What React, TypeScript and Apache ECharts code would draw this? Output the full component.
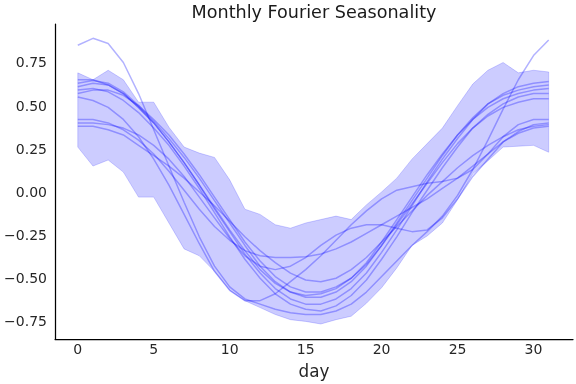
import React, { useEffect, useRef } from "react";
import * as echarts from "echarts";

const days = [0, 1, 2, 3, 4, 5, 6, 7, 8, 9, 10, 11, 12, 13, 14, 15, 16, 17, 18, 19, 20, 21, 22, 23, 24, 25, 26, 27, 28, 29, 30, 31];

const bandUpper = [0.69, 0.65, 0.705, 0.65, 0.52, 0.52, 0.375, 0.26, 0.225, 0.2, 0.07, -0.1, -0.13, -0.19, -0.21, -0.18, -0.16, -0.14, -0.16, -0.075, 0.0, 0.08, 0.19, 0.28, 0.37, 0.5, 0.625, 0.705, 0.75, 0.69, 0.705, 0.695];
const bandLower = [0.26, 0.15, 0.185, 0.115, -0.03, -0.03, -0.18, -0.33, -0.37, -0.46, -0.57, -0.63, -0.67, -0.71, -0.74, -0.75, -0.765, -0.74, -0.72, -0.645, -0.555, -0.44, -0.31, -0.255, -0.18, -0.045, 0.105, 0.18, 0.26, 0.265, 0.27, 0.23];

const sampleA = [0.85, 0.89, 0.86, 0.75, 0.57, 0.36, 0.15, -0.06, -0.26, -0.43, -0.55, -0.62, -0.65, -0.68, -0.7, -0.71, -0.71, -0.69, -0.65, -0.58, -0.49, -0.4, -0.31, -0.23, -0.14, -0.02, 0.13, 0.3, 0.48, 0.65, 0.79, 0.88];
const sampleE = [0.55, 0.53, 0.49, 0.42, 0.32, 0.19, 0.04, -0.13, -0.3, -0.46, -0.57, -0.63, -0.63, -0.59, -0.52, -0.45, -0.37, -0.28, -0.19, -0.11, -0.04, 0.01, 0.03, 0.05, 0.06, 0.08, 0.13, 0.22, 0.32, 0.39, 0.42, 0.42];
const sampleH1 = [0.65, 0.65, 0.62, 0.57, 0.49, 0.4, 0.29, 0.17, 0.04, -0.1, -0.23, -0.36, -0.47, -0.56, -0.62, -0.65, -0.65, -0.62, -0.56, -0.47, -0.35, -0.22, -0.08, 0.06, 0.19, 0.31, 0.42, 0.51, 0.57, 0.61, 0.63, 0.64];
const sampleH2 = [0.63, 0.645, 0.63, 0.58, 0.5, 0.41, 0.31, 0.2, 0.08, -0.05, -0.18, -0.31, -0.43, -0.52, -0.58, -0.61, -0.61, -0.58, -0.52, -0.43, -0.31, -0.18, -0.05, 0.08, 0.21, 0.33, 0.43, 0.51, 0.56, 0.59, 0.61, 0.62];
const sampleH3 = [0.61, 0.63, 0.62, 0.57, 0.49, 0.4, 0.29, 0.17, 0.04, -0.09, -0.22, -0.34, -0.45, -0.53, -0.58, -0.6, -0.59, -0.56, -0.5, -0.41, -0.29, -0.16, -0.03, 0.1, 0.22, 0.33, 0.42, 0.49, 0.54, 0.57, 0.59, 0.6];
const sampleH4 = [0.59, 0.6, 0.58, 0.53, 0.46, 0.37, 0.27, 0.15, 0.02, -0.12, -0.26, -0.39, -0.5, -0.59, -0.65, -0.68, -0.69, -0.66, -0.6, -0.51, -0.39, -0.26, -0.12, 0.01, 0.14, 0.26, 0.37, 0.45, 0.51, 0.55, 0.57, 0.57];
const sampleH5 = [0.57, 0.59, 0.59, 0.56, 0.5, 0.42, 0.33, 0.22, 0.1, -0.03, -0.16, -0.29, -0.4, -0.49, -0.55, -0.58, -0.58, -0.55, -0.5, -0.42, -0.31, -0.19, -0.07, 0.05, 0.17, 0.28, 0.37, 0.44, 0.49, 0.52, 0.54, 0.54];
const sampleL1 = [0.42, 0.42, 0.4, 0.36, 0.3, 0.22, 0.12, 0.01, -0.1, -0.2, -0.28, -0.34, -0.37, -0.38, -0.38, -0.375, -0.36, -0.33, -0.29, -0.24, -0.19, -0.14, -0.09, -0.04, 0.02, 0.08, 0.15, 0.22, 0.29, 0.34, 0.37, 0.38];
const sampleW = [0.4, 0.4, 0.39, 0.37, 0.33, 0.27, 0.19, 0.09, -0.03, -0.15, -0.27, -0.37, -0.43, -0.45, -0.43, -0.38, -0.31, -0.25, -0.21, -0.19, -0.19, -0.21, -0.23, -0.22, -0.15, -0.04, 0.09, 0.19, 0.29, 0.35, 0.39, 0.4];
const sampleS3 = [0.38, 0.38, 0.36, 0.33, 0.27, 0.21, 0.15, 0.08, 0.0, -0.08, -0.17, -0.26, -0.34, -0.41, -0.47, -0.51, -0.52, -0.5, -0.45, -0.38, -0.29, -0.2, -0.11, -0.02, 0.06, 0.14, 0.21, 0.27, 0.32, 0.36, 0.38, 0.39];

const samples = [sampleA, sampleE, sampleH1, sampleH2, sampleH3, sampleH4, sampleH5, sampleL1, sampleW, sampleS3];

const xTicks = [0, 5, 10, 15, 20, 25, 30];
const yTicks = [-0.75, -0.5, -0.25, 0, 0.25, 0.5, 0.75];

const FONT = "DejaVu Sans";
const TEXT = "#262626";

export default function App() {
  const ref = useRef<HTMLDivElement>(null);

  useEffect(() => {
    if (!ref.current) return;
    const chart = echarts.init(ref.current, null, { renderer: "svg" });

    const bandSeries = {
      type: "custom",
      silent: true,
      z: 1,
      data: [[days[0], bandUpper[0]]],
      renderItem: (params: any, api: any) => {
        if (params.dataIndex !== 0) return null;
        const pts: number[][] = [];
        for (let i = 0; i < days.length; i++) pts.push(api.coord([days[i], bandUpper[i]]));
        for (let i = days.length - 1; i >= 0; i--) pts.push(api.coord([days[i], bandLower[i]]));
        return {
          type: "polygon",
          shape: { points: pts },
          style: { fill: "rgba(0,0,255,0.2)", stroke: "rgba(0,0,255,0.18)", lineWidth: 1 },
        };
      },
    };

    const lineSeries = samples.map((s) => ({
      type: "line",
      data: days.map((d, i) => [d, s[i]]),
      showSymbol: false,
      silent: true,
      z: 2,
      lineStyle: { color: "rgba(0,0,255,0.3)", width: 1.5 },
    }));

    chart.setOption({
      animation: false,
      title: {
        text: "Monthly Fourier Seasonality",
        left: 309,
        top: -2,
        textAlign: "center",
        textStyle: { fontFamily: FONT, fontSize: 17.6, fontWeight: "normal", color: "#1a1a1a" },
      },
      grid: { left: 55, right: 3, top: 24, bottom: 45, containLabel: false },
      xAxis: {
        type: "value",
        min: -1.5,
        max: 32.6,
        name: "day",
        nameLocation: "middle",
        nameGap: 23,
        nameTextStyle: { fontFamily: FONT, fontSize: 16.8, color: TEXT },
        axisLine: { show: true, onZero: false, lineStyle: { color: "#000", width: 1.25 } },
        axisTick: { show: false },
        splitLine: { show: false },
        axisLabel: {
          customValues: xTicks,
          fontFamily: FONT,
          fontSize: 14,
          color: TEXT,
          margin: 3,
          formatter: (v: number) => String(v),
        },
      },
      yAxis: {
        type: "value",
        min: -0.852,
        max: 0.973,
        axisLine: { show: true, onZero: false, lineStyle: { color: "#000", width: 1.25 } },
        axisTick: { show: false },
        splitLine: { show: false },
        axisLabel: {
          customValues: yTicks,
          fontFamily: FONT,
          fontSize: 14,
          color: TEXT,
          margin: 8,
          formatter: (v: number) => v.toFixed(2).replace("-", "\u2212"),
        },
      },
      series: [bandSeries, ...lineSeries],
    });

    return () => chart.dispose();
  }, []);

  return <div ref={ref} style={{ position: "fixed", left: 0, top: 0, width: 576, height: 384 }} />;
}
